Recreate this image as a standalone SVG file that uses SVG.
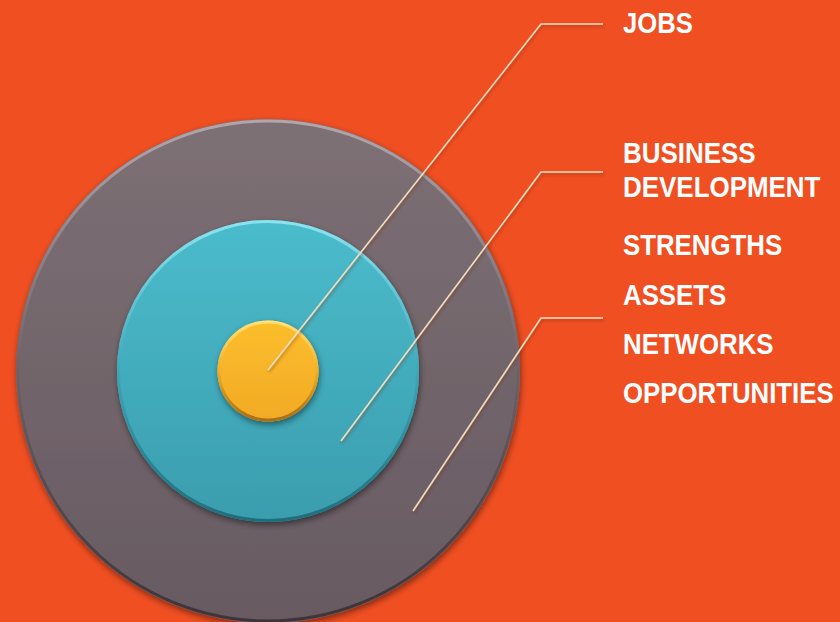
<svg xmlns="http://www.w3.org/2000/svg" width="840" height="622" viewBox="0 0 840 622">
<defs>
<style>
.lbl{font-family:"Liberation Sans",Arial,sans-serif;font-weight:bold;font-size:29px;fill:#FFFFFF}
.con{fill:none;stroke:#F2DDBE;stroke-width:1.6;stroke-linejoin:round}
</style>
<linearGradient id="gGrey" x1="0" y1="0" x2="0" y2="1">
<stop offset="0" stop-color="#7D7075"/><stop offset="1" stop-color="#675A61"/>
</linearGradient>
<linearGradient id="gTeal" x1="0" y1="0" x2="0" y2="1">
<stop offset="0" stop-color="#4BBCCC"/><stop offset="1" stop-color="#3A9DAE"/>
</linearGradient>
<linearGradient id="gYel" x1="0" y1="0" x2="0" y2="1">
<stop offset="0" stop-color="#FCBE2C"/><stop offset="1" stop-color="#F2AA26"/>
</linearGradient>
<linearGradient id="rimGrey" x1="0" y1="0" x2="0" y2="1">
<stop offset="0" stop-color="#B3A6AB"/><stop offset="0.5" stop-color="#6E6167"/><stop offset="1" stop-color="#3E3338"/>
</linearGradient>
<linearGradient id="rimTeal" x1="0" y1="0" x2="0" y2="1">
<stop offset="0" stop-color="#8BE3F0"/><stop offset="0.5" stop-color="#3FA7B8"/><stop offset="1" stop-color="#1F6E7B"/>
</linearGradient>
<linearGradient id="rimYel" x1="0" y1="0" x2="0" y2="1">
<stop offset="0" stop-color="#FFE07A"/><stop offset="0.5" stop-color="#F2AE28"/><stop offset="1" stop-color="#A86F12"/>
</linearGradient>
<filter id="sh" x="-20%" y="-20%" width="140%" height="140%">
<feDropShadow dx="1" dy="3" stdDeviation="3" flood-color="#000" flood-opacity="0.45"/>
</filter>
<filter id="lsh" x="-10%" y="-10%" width="120%" height="120%">
<feDropShadow dx="1" dy="2" stdDeviation="1.5" flood-color="#7A2A10" flood-opacity="0.5"/>
</filter>
</defs>
<rect x="0" y="0" width="840" height="622" fill="#F04F22"/>
<g id="ring-outer" filter="url(#sh)">
<circle cx="268" cy="371" r="252" fill="url(#gGrey)"/>
<circle cx="268" cy="371" r="250" fill="none" stroke="url(#rimGrey)" stroke-width="3"/>
</g>
<g id="ring-middle" filter="url(#sh)">
<circle cx="268" cy="371" r="151" fill="url(#gTeal)"/>
<circle cx="268" cy="371" r="149.5" fill="none" stroke="url(#rimTeal)" stroke-width="3"/>
</g>
<g id="ring-core" filter="url(#sh)">
<circle cx="268" cy="371" r="50.5" fill="url(#gYel)"/>
<circle cx="268" cy="371" r="49" fill="none" stroke="url(#rimYel)" stroke-width="3"/>
</g>
<g id="connectors" filter="url(#lsh)">
<polyline class="con" points="268,370 541,24 603,24"/>
<polyline class="con" points="341,441 541,172 603,172"/>
<polyline class="con" points="413,511 541,318 603,318"/>
</g>
<g id="label-jobs" transform="translate(623,0) scale(0.885,1)">
<text class="lbl" x="0" y="33">JOBS</text>
</g>
<g id="label-business" transform="translate(623,0) scale(0.895,1)">
<text class="lbl" x="0" y="163">BUSINESS</text>
<text class="lbl" x="0" y="197">DEVELOPMENT</text>
</g>
<g id="label-assets" transform="translate(623,0) scale(0.89,1)">
<text class="lbl" x="0" y="255">STRENGTHS</text>
<text class="lbl" x="0" y="305">ASSETS</text>
<text class="lbl" x="0" y="354">NETWORKS</text>
<text class="lbl" x="0" y="403">OPPORTUNITIES</text>
</g>
</svg>
